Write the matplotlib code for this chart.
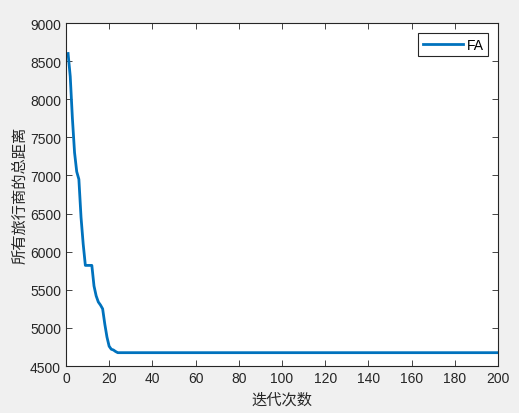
import matplotlib
matplotlib.use("Agg")
import matplotlib.pyplot as plt

# convergence curve (iteration, total distance)
iters = [1, 2, 3, 4, 5, 6, 7, 8, 9, 10, 11, 12, 13, 14, 15, 16, 17, 18,
         19, 20, 21, 22, 23, 24, 200]
dist = [8600, 8300, 7750, 7300, 7050, 6950, 6450, 6100, 5820, 5820, 5820,
        5820, 5550, 5420, 5340, 5300, 5250, 5050, 4880, 4760, 4720, 4710,
        4690, 4675, 4675]

xticks = list(range(0, 201, 20))
yticks = list(range(4500, 9001, 500))

plt.rcParams.update({
    "font.family": ["Liberation Sans", "Noto Sans CJK SC", "DejaVu Sans"],
    "font.size": 10,
    "axes.linewidth": 0.8,
    "xtick.direction": "in",
    "ytick.direction": "in",
    "xtick.top": True,
    "ytick.right": True,
})

fig = plt.figure(figsize=(5.19, 4.14), dpi=100, facecolor="#f0f0f0")
ax = fig.add_axes([0.127, 0.1135, 0.8325, 0.8285])

ax.plot(iters, dist, color="#0072BD", linewidth=2.0, label="FA")

ax.set_xlim(0, 200)
ax.set_ylim(4500, 9000)
ax.set_xticks(xticks)
ax.set_yticks(yticks)
for s in ax.spines.values():
    s.set_color("#262626")
ax.tick_params(colors="#262626", labelsize=10, length=4, width=0.6)

cjk = ["Noto Sans CJK SC", "DejaVu Sans"]
ax.set_xlabel("迭代次数", family=cjk, fontsize=11, color="#262626")
ax.set_ylabel("所有旅行商的总距离", family=cjk, fontsize=11, color="#262626",
              labelpad=1)

leg = ax.legend(loc="upper right", fancybox=False, framealpha=1,
                edgecolor="#262626", handlelength=2.9, handletextpad=0.25,
                borderpad=0.3, borderaxespad=0.75, fontsize=10)
leg.get_frame().set_linewidth(0.8)

fig.savefig("out.png", dpi=100, facecolor=fig.get_facecolor())
